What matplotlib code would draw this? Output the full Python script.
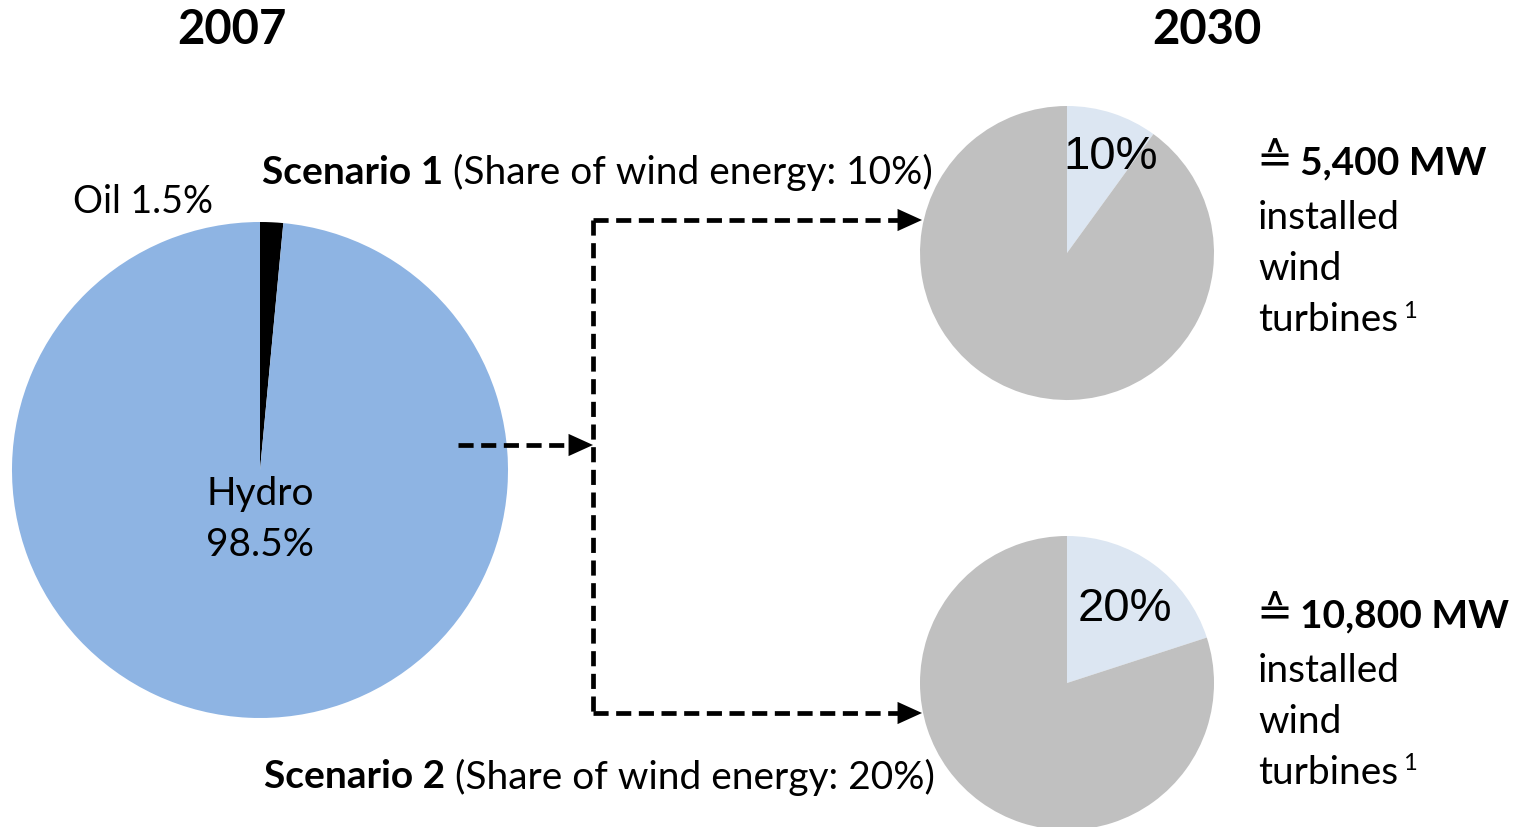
import matplotlib
matplotlib.use("Agg")
import matplotlib.pyplot as plt

plt.rcParams['font.family'] = ['Lato', 'DejaVu Sans']

# Electricity generation mix
years = ["2007", "2030"]
mix_2007_labels = ["Oil", "Hydro"]
mix_2007_values = [1.5, 98.5]
scenario_names = ["Scenario 1", "Scenario 2"]
wind_share = [10, 20]
installed_mw = ["5,400", "10,800"]

BLUE = "#8EB4E3"
GREY = "#C0C0C0"
LIGHT = "#DCE6F2"
FS = 28

fig = plt.figure(figsize=(15.13, 8.27), dpi=100)
ax = fig.add_axes([0, 0, 1, 1])

# Year headers
ax.text(232, 30, years[0], ha="center", va="center", fontsize=34, fontweight="bold")
ax.text(1207, 30, years[1], ha="center", va="center", fontsize=34, fontweight="bold")

# 2007 pie (y axis inverted, so counterclock=True runs clockwise on screen)
ax.pie(mix_2007_values, colors=["black", BLUE], startangle=-90, counterclock=True,
       center=(260, 470), radius=248, frame=True,
       wedgeprops=dict(linewidth=0))
ax.text(73, 202, f"{mix_2007_labels[0]} {mix_2007_values[0]}%", ha="left", va="center", fontsize=27)
ax.text(260, 494, mix_2007_labels[1], ha="center", va="center", fontsize=FS)
ax.text(260, 545, f"{mix_2007_values[1]}%", ha="center", va="center", fontsize=FS)

# 2030 scenario pies
centers = [(1067, 253), (1067, 683)]
label_pos = [(1111, 157), (1125, 609)]
for share, c, lp in zip(wind_share, centers, label_pos):
    ax.pie([share, 100 - share], colors=[LIGHT, GREY], startangle=-90, counterclock=True,
           center=c, radius=147, frame=True, wedgeprops=dict(linewidth=0))
    ax.text(lp[0], lp[1], f"{share}%", ha="center", va="center", fontsize=34,
            family="Liberation Sans")

# Capacity notes
for mw, y0 in zip(installed_mw, [163, 616]):
    t = ax.text(1256, y0 - 2, "\u2259", ha="left", va="center", fontsize=31, family="DejaVu Sans")
    ax.text(1300, y0, f"{mw} MW", ha="left", va="center", fontsize=FS, fontweight="bold")
    ax.text(1258, y0 + 55, "installed", ha="left", va="center", fontsize=FS)
    ax.text(1258, y0 + 106, "wind", ha="left", va="center", fontsize=FS)
    tb = ax.text(1258, y0 + 157, "turbines", ha="left", va="center", fontsize=FS)
    ax.annotate(" 1", xy=(1, 0.75), xycoords=tb, ha="left", va="center", fontsize=17)

# Scenario captions
for name, share, (x0, y0) in zip(scenario_names, wind_share, [(262, 172), (264, 777)]):
    t = ax.text(x0, y0, name, ha="left", va="center", fontsize=FS, fontweight="bold")
    ax.annotate(f" (Share of wind energy: {share}%)", xy=(1, 0.5), xycoords=t,
                ha="left", va="center", fontsize=FS)

# Dashed connector lines with solid arrowheads
lw = 3.4
dash = (0, (3.2, 1.6))
head = 17
segments = [
    ((593, 593), (220, 713), None),
    ((458, 593), (445, 445), (593, 445)),
    ((593, 922), (220, 220), (922, 220)),
    ((593, 922), (713, 713), (922, 713)),
]
for xs, ys, tip in segments:
    if tip is None:
        ax.plot(xs, ys, color="black", lw=lw, linestyle=dash, dash_capstyle="butt")
    else:
        ax.plot([xs[0], xs[1] - head], ys, color="black", lw=lw, linestyle=dash,
                dash_capstyle="butt")
        ax.annotate("", xy=tip, xytext=(tip[0] - head, tip[1]),
                    arrowprops=dict(arrowstyle="-|>,head_length=1.1,head_width=0.5",
                                    mutation_scale=16, color="black", lw=0,
                                    shrinkA=0, shrinkB=0))

ax.set_xlim(0, 1513)
ax.set_ylim(827, 0)
ax.set_aspect("equal")
ax.axis("off")
fig.savefig("out.png", dpi=100)
